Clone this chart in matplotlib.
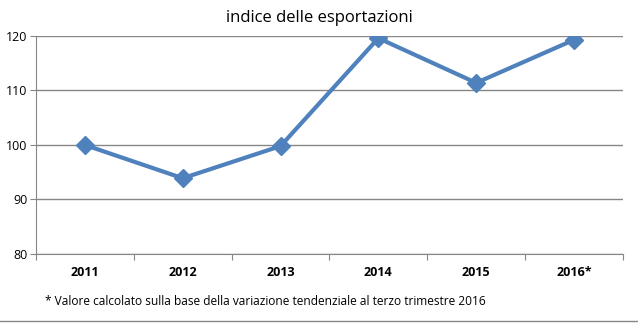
import numpy as np
import matplotlib.pyplot as plt

anni = ['2011', '2012', '2013', '2014', '2015', '2016*']
indice = [100.0, 93.9, 99.8, 119.6, 111.4, 119.3]

plt.rcParams['font.family'] = ['Open Sans', 'DejaVu Sans']

fig = plt.figure(figsize=(6.38, 3.26), dpi=100)
ax = fig.add_axes([0.0564, 0.2209, 0.92, 0.6687])

x = np.arange(len(anni))
ax.plot(x, indice, color='#4F81BD', lw=3, marker='D', ms=9.5, zorder=3)

ax.set_xlim(-0.5, len(anni) - 0.5)
ax.set_ylim(80, 120)
ax.set_yticks([80, 90, 100, 110, 120])
ax.yaxis.grid(True, color='#868686', lw=1)
ax.set_axisbelow(True)

# boundaries as major ticks, labels on minor ticks at centres
ax.set_xticks(np.arange(len(anni) + 1) - 0.5)
ax.set_xticklabels([])
ax.set_xticks(x, minor=True)
ax.set_xticklabels(anni, minor=True, fontweight='bold', fontsize=9)
ax.tick_params(axis='x', which='major', length=4, color='#868686')
ax.tick_params(axis='x', which='minor', length=0, pad=9)
ax.tick_params(axis='y', length=4, color='#868686', labelsize=9, pad=2)

for s in ['top', 'right']:
    ax.spines[s].set_visible(False)
for s in ['left', 'bottom']:
    ax.spines[s].set_color('#868686')

fig.text(0.5, 0.945, 'indice delle esportazioni', ha='center', va='center', fontsize=12)
fig.text(0.07, 0.074, '* Valore calcolato sulla base della variazione tendenziale al terzo trimestre 2016',
         ha='left', va='center', fontsize=8.6)
fig.add_artist(plt.Line2D([0, 1], [0.014, 0.014], color='#868686', lw=1, transform=fig.transFigure))

fig.savefig('out.png', dpi=100)
